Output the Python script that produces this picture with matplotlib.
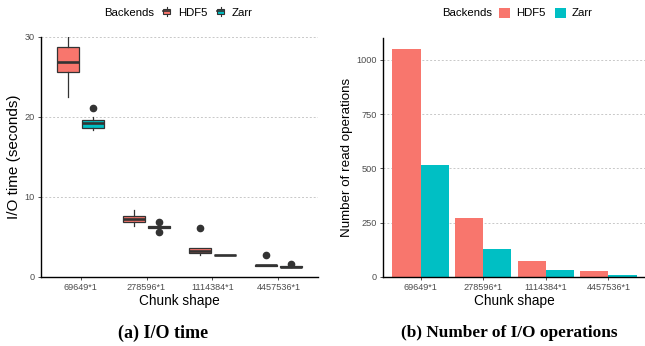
import matplotlib.pyplot as plt
from matplotlib.patches import Patch, Rectangle
from matplotlib.lines import Line2D
from matplotlib.legend_handler import HandlerBase

plt.rcParams['font.family'] = 'Liberation Sans'

# ===================== 数据 =====================
chunk_shapes = ['69649*1', '278596*1', '1114384*1', '4457536*1']
backends = ['HDF5', 'Zarr']
colors = {'HDF5': '#F8766D', 'Zarr': '#00BFC4'}

# I/O time (seconds) box statistics
hdf5_q1 = [25.6, 6.87, 2.95, 1.36]
hdf5_med = [26.85, 7.28, 3.2, 1.46]
hdf5_q3 = [28.8, 7.66, 3.62, 1.52]
hdf5_lo = [22.55, 6.41, 2.72, 1.36]
hdf5_hi = [31.0, 8.41, 3.62, 1.52]
hdf5_out = [[], [], [6.16], [2.79]]

zarr_q1 = [18.68, 6.1, 2.72, 1.2]
zarr_med = [19.31, 6.2, 2.76, 1.29]
zarr_q3 = [19.64, 6.32, 2.8, 1.4]
zarr_lo = [18.39, 6.1, 2.72, 1.2]
zarr_hi = [19.97, 6.32, 2.8, 1.4]
zarr_out = [[21.18], [6.91, 5.62], [], [1.62]]

# number of read operations
hdf5_reads = [1049, 273, 75, 29]
zarr_reads = [516, 130, 34, 11]

# ===================== 绘图 =====================
W, H = 645, 346
fig = plt.figure(figsize=(W / 100, H / 100), dpi=100)
ax1 = fig.add_axes([41 / W, 1 - 277 / H, 277 / W, 240 / H])
ax2 = fig.add_axes([383 / W, 1 - 277 / H, 263 / W, 239 / H])

edge = '#333333'
tick_grey = '#4D4D4D'


def make_stats(q1, med, q3, lo, hi, out):
    return [dict(q1=a, med=b, q3=c, whislo=d, whishi=e, fliers=f)
            for a, b, c, d, e, f in zip(q1, med, q3, lo, hi, out)]


stats = {
    'HDF5': make_stats(hdf5_q1, hdf5_med, hdf5_q3, hdf5_lo, hdf5_hi, hdf5_out),
    'Zarr': make_stats(zarr_q1, zarr_med, zarr_q3, zarr_lo, zarr_hi, zarr_out),
}
offsets = {'HDF5': -0.185, 'Zarr': 0.185}
for b in backends:
    pos = [i + offsets[b] for i in range(len(chunk_shapes))]
    ax1.bxp(stats[b], positions=pos, widths=0.33, patch_artist=True,
            showcaps=False,
            boxprops=dict(facecolor=colors[b], edgecolor=edge, linewidth=0.9),
            medianprops=dict(color=edge, linewidth=1.9),
            whiskerprops=dict(color=edge, linewidth=0.9),
            flierprops=dict(marker='o', markerfacecolor=edge, markeredgecolor=edge,
                            markersize=4.5))

ax1.set_ylim(0, 30)
ax1.set_yticks([0, 10, 20, 30])
ax1.set_ylabel('I/O time (seconds)', fontsize=11)
ax1.yaxis.set_label_coords(-0.072, 0.5)

x = list(range(len(chunk_shapes)))
ax2.bar([i - 0.225 for i in x], hdf5_reads, width=0.45, color=colors['HDF5'])
ax2.bar([i + 0.225 for i in x], zarr_reads, width=0.45, color=colors['Zarr'])
ax2.set_ylim(0, 1100)
ax2.set_yticks([0, 250, 500, 750, 1000])
ax2.set_ylabel('Number of read operations', fontsize=9.6)
ax2.yaxis.set_label_coords(-0.114, 0.5)

for ax in (ax1, ax2):
    ax.set_xlim(-0.6, 3.6)
    ax.set_xticks(x)
    ax.set_xticklabels(chunk_shapes)
    ax.set_xlabel('Chunk shape', fontsize=9.8)
    ax.xaxis.set_label_coords(0.5, -0.1)
    ax.xaxis.label.set_va('center')
    ax.tick_params(labelsize=6.6, labelcolor=tick_grey, color=edge,
                   length=2.5, width=0.6, pad=2)
    for s in ('top', 'right'):
        ax.spines[s].set_visible(False)
    for s in ('left', 'bottom'):
        ax.spines[s].set_linewidth(1.0)
        ax.spines[s].set_color('black')
    ax.yaxis.grid(True, color='#C8C8C8', linestyle=(0, (2, 2)), linewidth=0.7)
    ax.set_axisbelow(True)


# 图例：小箱线图样式
class BoxHandler(HandlerBase):
    def create_artists(self, legend, orig_handle, xd, yd, width, height, fontsize, trans):
        bw = width * 0.5
        x0 = xd + (width - bw) / 2
        cx = xd + width / 2
        r = Rectangle((x0, yd + height * 0.2), bw, height * 0.6,
                      facecolor=orig_handle.get_facecolor(), edgecolor=edge,
                      linewidth=0.8, transform=trans)
        m = Line2D([x0, x0 + bw], [yd + height * 0.5] * 2,
                   color=edge, linewidth=1.2, transform=trans)
        w1 = Line2D([cx, cx], [yd - height * 0.05, yd + height * 0.2], color=edge,
                    linewidth=0.8, transform=trans)
        w2 = Line2D([cx, cx], [yd + height * 0.8, yd + height * 1.05], color=edge,
                    linewidth=0.8, transform=trans)
        return [r, m, w1, w2]


box_handles = [Patch(facecolor=colors[b]) for b in backends]
bar_handles = [Patch(facecolor=colors[b]) for b in backends]

fig.text(104 / W, 1 - 13 / H, 'Backends', fontsize=8.2, va='center')
fig.legend(box_handles, backends, loc='center left', bbox_to_anchor=(160 / W, 1 - 13 / H),
           frameon=False, ncol=2, fontsize=8.2, handlelength=1.2, handleheight=0.8,
           handletextpad=0.35, columnspacing=0.6, borderpad=0, borderaxespad=0,
           handler_map={Patch: BoxHandler()})

fig.text(442 / W, 1 - 13 / H, 'Backends', fontsize=8.2, va='center')
fig.legend(bar_handles, backends, loc='center left', bbox_to_anchor=(499 / W, 1 - 13 / H),
           frameon=False, ncol=2, fontsize=8.2, handlelength=1.0, handleheight=1.0,
           handletextpad=0.5, columnspacing=0.8, borderpad=0, borderaxespad=0)

# 子图标题
fig.text(163 / W, 1 - 333 / H, '(a) I/O time', fontsize=13, fontweight='bold',
         family='Liberation Serif', ha='center', va='center')
fig.text(509 / W, 1 - 333 / H, '(b) Number of I/O operations', fontsize=12.4,
         fontweight='bold', family='Liberation Serif', ha='center', va='center')

plt.savefig('out.png', dpi=100)
